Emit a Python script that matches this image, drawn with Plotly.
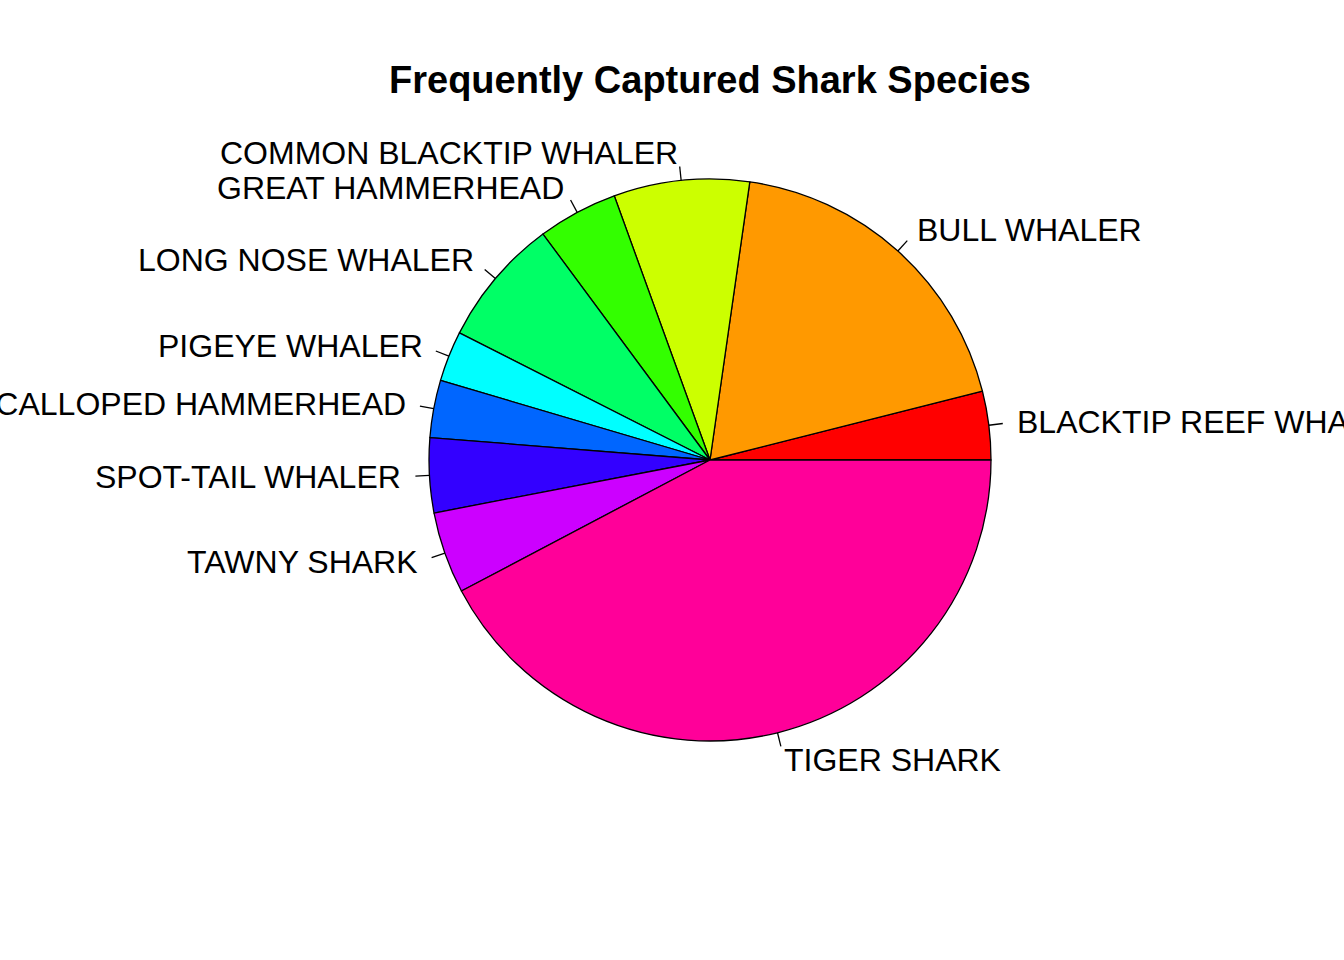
import math
import plotly.graph_objects as go

labels = ["BLACKTIP REEF WHALER", "BULL WHALER", "COMMON BLACKTIP WHALER",
          "GREAT HAMMERHEAD", "LONG NOSE WHALER", "PIGEYE WHALER",
          "SCALLOPED HAMMERHEAD", "SPOT-TAIL WHALER", "TAWNY SHARK", "TIGER SHARK"]
values = [39.5, 188, 78, 46, 74, 29, 33, 43, 47, 423]
colors = ["#FF0000", "#FF9900", "#CCFF00", "#33FF00", "#00FF66",
          "#00FFFF", "#0066FF", "#3300FF", "#CC00FF", "#FF0099"]
title = "Frequently Captured Shark Species"

W, H = 1344, 960
cx, cy, R = 710, 460, 281  # pixel centre (from top) and radius

total = sum(values)
first_deg = 360.0 * values[0] / total

fig = go.Figure(go.Pie(
    labels=labels, values=values, sort=False, direction="counterclockwise",
    rotation=90 - first_deg, textinfo="none", hoverinfo="label+value",
    marker=dict(colors=colors, line=dict(color="black", width=1.3)),
    domain=dict(x=[(cx - R) / W, (cx + R) / W], y=[(H - cy - R) / H, (H - cy + R) / H]),
    showlegend=False,
))

cum = 0.0
annotations = []
shapes = []
for lab, v in zip(labels, values):
    mid = 2 * math.pi * (cum + v / 2) / total
    cum += v
    c, s = math.cos(mid), math.sin(mid)
    x0, y0 = cx + R * c, (H - cy) + R * s
    x1, y1 = cx + 1.05 * R * c, (H - cy) + 1.05 * R * s
    shapes.append(dict(type="line", xref="paper", yref="paper",
                       x0=x0 / W, y0=y0 / H, x1=x1 / W, y1=y1 / H,
                       line=dict(color="black", width=1.3)))
    xt, yt = cx + 1.1 * R * c, (H - cy) + 1.1 * R * s
    annotations.append(dict(x=xt / W, y=yt / H, xref="paper", yref="paper",
                            text=lab, showarrow=False, borderpad=0,
                            xanchor="left" if c >= 0 else "right", yanchor="middle",
                            xshift=-1 if c >= 0 else 1,
                            font=dict(family="Liberation Sans, Arial", size=32, color="black")))

annotations.append(dict(x=cx / W, y=1 - 80 / H, xref="paper", yref="paper",
                        text="<b>" + title + "</b>", showarrow=False,
                        xanchor="center", yanchor="middle",
                        font=dict(family="Liberation Sans, Arial", size=38, color="black")))

fig.update_layout(width=W, height=H, margin=dict(l=0, r=0, t=0, b=0),
                  paper_bgcolor="white", plot_bgcolor="white",
                  annotations=annotations, shapes=shapes)
fig.write_html("out.html")
